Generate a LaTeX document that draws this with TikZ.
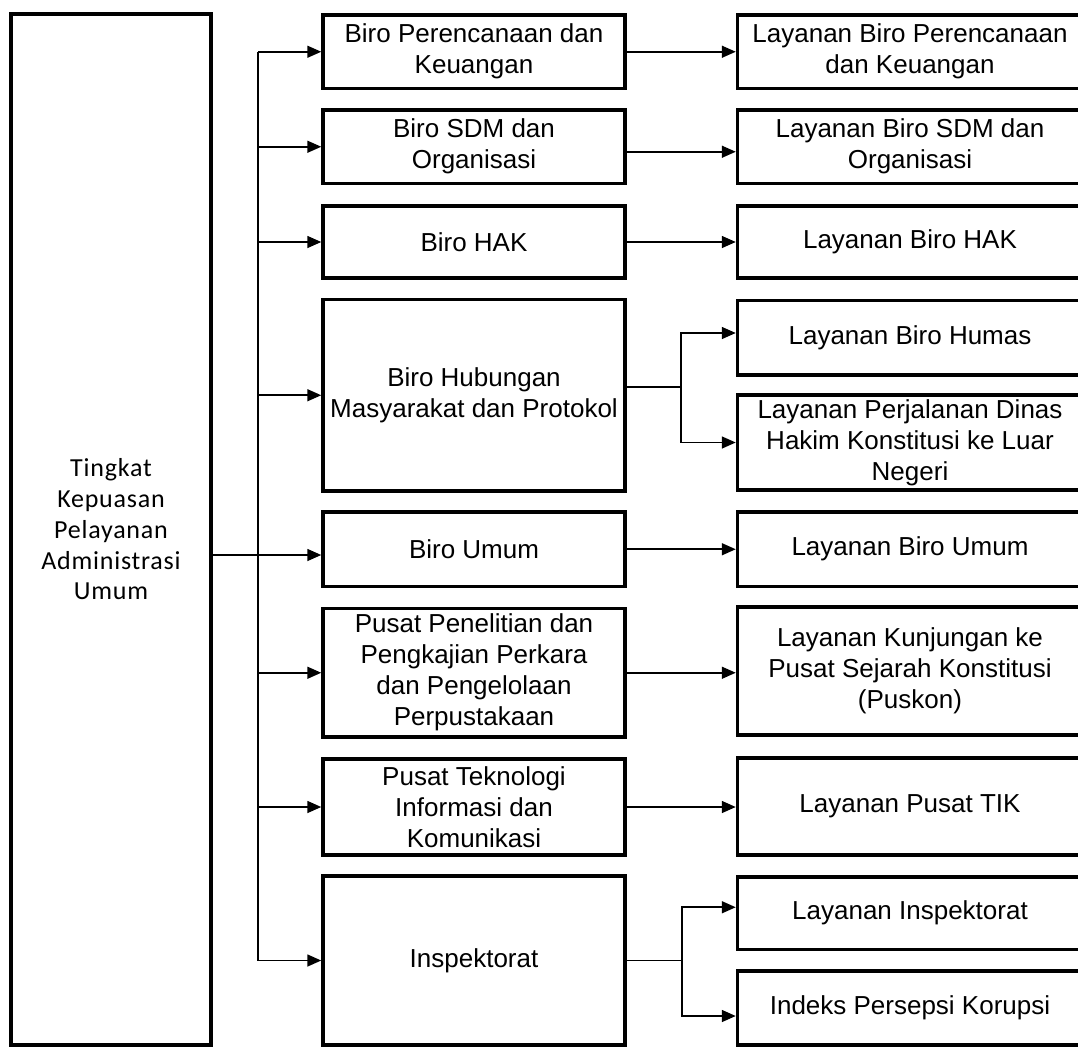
\documentclass[tikz,border=0pt]{standalone}
\usepackage{fontspec}
\setmainfont{Liberation Sans}
\newfontfamily\calfont[LetterSpace=3]{Carlito}
\usetikzlibrary{arrows.meta,calc}

\begin{document}
\begin{tikzpicture}[x=1pt,y=-1pt,
  unit/.style={draw,rectangle,line width=3.5pt,inner sep=0pt,align=center,
    font=\fontsize{26}{31}\selectfont},
  midbox/.style={unit,minimum width=302pt},
  svcbox/.style={unit,minimum width=345pt},
  conn/.style={line width=1.6pt},
  arr/.style={conn,-{Triangle[length=14pt,width=12pt]}}]
\useasboundingbox (0,0) rectangle (1078,1049);
\clip (0,0) rectangle (1078,1049);

% root box
\node[unit,minimum width=200pt,minimum height=1031pt,
      font=\calfont\fontsize{26}{30.75}\selectfont] (L) at (111,529.5)
  {Tingkat\\Kepuasan\\Pelayanan\\Administrasi\\Umum};

% work units
\node[midbox,minimum height=73.5pt] (m1) at (474,51.75) {Biro Perencanaan dan\\Keuangan};
\node[midbox,minimum height=73.5pt] (m2) at (474,146.75) {Biro SDM dan\\Organisasi};
\node[midbox,minimum height=72pt]   (m3) at (474,242) {Biro HAK};
\node[midbox,minimum height=191.5pt] (m4) at (474,395.25) {Biro Hubungan\\Masyarakat dan Protokol};
\node[midbox,minimum height=74.5pt] (m5) at (474,549.25) {Biro Umum};
\node[midbox,minimum height=128.5pt] (m6) at (474,672.75) {Pusat Penelitian dan\\Pengkajian Perkara\\dan Pengelolaan\\Perpustakaan};
\node[midbox,minimum height=96pt]   (m7) at (474,807) {Pusat Teknologi\\Informasi dan\\Komunikasi};
\node[midbox,minimum height=169pt]  (m8) at (474,960.5) {Inspektorat};

% services
\node[svcbox,minimum height=73.5pt] (r1) at (910,51.75) {Layanan Biro Perencanaan\\dan Keuangan};
\node[svcbox,minimum height=73.5pt] (r2) at (910,146.75) {Layanan Biro SDM dan\\Organisasi};
\node[svcbox,minimum height=72pt]   (r3) at (910,242) {Layanan Biro HAK};
\node[svcbox,minimum height=74.5pt] (r4a) at (910,337.75) {Layanan Biro Humas};
\node[svcbox,minimum height=95pt]   (r4b) at (910,442.5) {Layanan Perjalanan Dinas\\Hakim Konstitusi ke Luar\\Negeri};
\node[svcbox,minimum height=74.5pt] (r5) at (910,549.25) {Layanan Biro Umum};
\node[svcbox,minimum height=128pt]  (r6) at (910,671) {Layanan Kunjungan ke\\Pusat Sejarah Konstitusi\\(Puskon)};
\node[svcbox,minimum height=97pt]   (r7) at (910,806.5) {Layanan Pusat TIK};
\node[svcbox,minimum height=72.5pt] (r8a) at (910,913.25) {Layanan Inspektorat};
\node[svcbox,minimum height=74pt]   (r8b) at (910,1008) {Indeks Persepsi Korupsi};

% distribution bus from the root box
\coordinate (bus) at (258,555);
\draw[conn] (bus |- m1.west) -- (bus |- m8.west);
\draw[conn] (L.east |- bus) -- (bus);
\draw[arr] (bus) -- (m5.west |- bus);
\foreach \m in {m1,m2,m3,m4,m6,m7,m8}
  \draw[arr] (bus |- \m.west) -- (\m.west);

% unit to service links
\foreach \m/\r in {m1/r1,m3/r3,m5/r5,m6/r6,m7/r7}
  \draw[arr] (\m.east) -- (\r.west |- \m.east);
\coordinate (m2out) at ([yshift=-5pt]m2.east);
\draw[arr] (m2out) -- (r2.west |- m2out);

% forks
\coordinate (f4) at (681,387);
\draw[conn] (m4.east |- f4) -- (f4);
\draw[arr] (f4) |- ([yshift=4.75pt]r4a.west);
\draw[arr] (f4) |- (r4b.west);

\coordinate (f8) at (682,960.5);
\draw[conn] (m8.east) -- (f8);
\draw[arr] (f8) |- ([yshift=6pt]r8a.west);
\draw[arr] (f8) |- ([yshift=-8pt]r8b.west);
\end{tikzpicture}
\end{document}
